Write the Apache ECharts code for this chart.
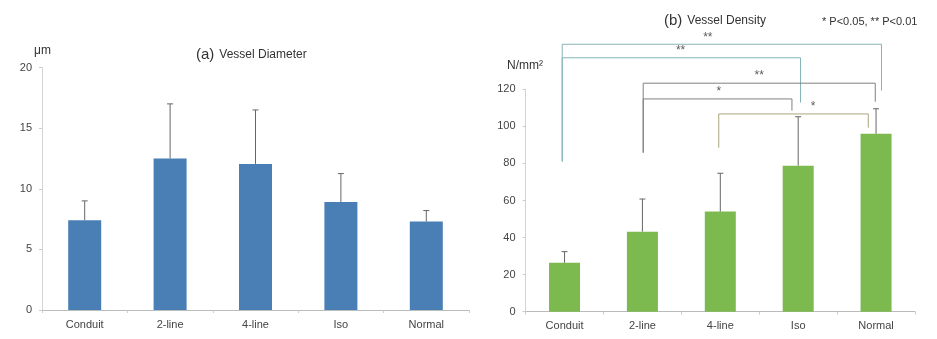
<!DOCTYPE html>
<html><head><meta charset="utf-8">
<script src="https://cdn.jsdelivr.net/npm/echarts@6/dist/echarts.min.js"></script>
<style>html,body{margin:0;padding:0;background:#fff}#c{width:937px;height:339px}</style>
</head><body><div id="c"></div>
<script>
var categories = ['Conduit', '2-line', '4-line', 'Iso', 'Normal'];
var diameterMean = [7.4, 12.5, 12.05, 8.9, 7.3];
var diameterErr = [9.0, 17.0, 16.5, 11.25, 8.2];
var densityMean = [26.4, 43.2, 54, 78.8, 96];
var densityErr = [32.4, 60.8, 74.7, 105.2, 109.5];
var diameterTicks = [0, 5, 10, 15, 20];
var densityTicks = [0, 20, 40, 60, 80, 100, 120];
// significance brackets: [xLeft, xRight, yTop, yLeftEnd, yRightEnd]
var bracketCoords = [
  [-0.03, 4.07, 144.3, 81, 119.3],
  [-0.03, 3.03, 137, 81, 112.8],
  [1.01, 3.99, 123.3, 85.8, 113.3],
  [1.01, 2.92, 114.8, 85.8, 108.5],
  [1.98, 3.90, 106.7, 88.5, 99.3]
];
var bracketLabels = ['**', '**', '**', '*', '*'];
var bracketLabelX = [1.84, 1.49, 2.5, 1.98, 3.19];
var bracketColors = ['#86b4b8', '#86b4b8', '#808080', '#808080', '#aaa67c'];

var chart = echarts.init(document.getElementById('c'), null, {renderer: 'canvas'});
var FONT = 'Liberation Sans';

function errSeries(xi, yi, mean, err) {
  return {
    type: 'custom', xAxisIndex: xi, yAxisIndex: yi, z: 5,
    data: mean.map(function (m, i) { return [i, m, err[i]]; }),
    renderItem: function (params, api) {
      var p0 = api.coord([api.value(0), api.value(1)]);
      var p1 = api.coord([api.value(0), api.value(2)]);
      var st = {stroke: '#666', lineWidth: 1};
      return {type: 'group', children: [
        {type: 'line', shape: {x1: p0[0], y1: p0[1], x2: p1[0], y2: p1[1]}, style: st},
        {type: 'line', shape: {x1: p1[0] - 3, y1: p1[1], x2: p1[0] + 3, y2: p1[1]}, style: st}
      ]};
    }
  };
}

var series = [
  {type: 'bar', xAxisIndex: 0, yAxisIndex: 0, data: diameterMean, barWidth: 33,
   itemStyle: {color: '#4a7fb6'}},
  errSeries(0, 0, diameterMean, diameterErr),
  {type: 'bar', xAxisIndex: 1, yAxisIndex: 1, data: densityMean, barWidth: 31,
   itemStyle: {color: '#7cb94e'}},
  errSeries(1, 1, densityMean, densityErr)
];
bracketCoords.forEach(function (b, k) {
  series.push({
    type: 'line', xAxisIndex: 2, yAxisIndex: 1, clip: false, symbol: 'none', silent: true,
    lineStyle: {color: bracketColors[k], width: 1},
    data: [[b[0], b[3]], [b[0], b[2]], [b[1], b[2]], [b[1], b[4]]]
  });
});
series.push({
  type: 'scatter', xAxisIndex: 2, yAxisIndex: 1, clip: false, symbolSize: 0, silent: true,
  data: bracketCoords.map(function (b, k) {
    return {value: [bracketLabelX[k], b[2]], name: bracketLabels[k]};
  }),
  label: {show: true, position: 'top', distance: 1, formatter: '{b}', color: '#333',
    fontFamily: FONT, fontSize: 12}
});

var axisLbl = {color: '#444', fontFamily: FONT, fontSize: 11};
var rich = {a: {fontSize: 15, color: '#333', fontFamily: FONT, fontWeight: 'normal'},
            b: {fontSize: 12, color: '#333', fontFamily: FONT, fontWeight: 'normal'}};
chart.setOption({
  animation: false,
  title: [
    {text: '{a|(a)} {b|Vessel Diameter}', left: 191, top: 41, textStyle: {fontWeight: 'normal', rich: rich}},
    {text: 'μm', left: 29, top: 40, textStyle: {fontSize: 12, fontWeight: 'normal', color: '#333', fontFamily: FONT}},
    {text: '{a|(b)} {b|Vessel Density}', left: 659, top: 7, textStyle: {fontWeight: 'normal', rich: rich}},
    {text: '* P<0.05, ** P<0.01', left: 817, top: 11, textStyle: {fontSize: 11, fontWeight: 'normal', color: '#333', fontFamily: FONT}},
    {text: 'N/mm²', left: 502, top: 55, textStyle: {fontSize: 12, fontWeight: 'normal', color: '#333', fontFamily: FONT}}
  ],
  grid: [
    {left: 42, right: 468, top: 67.5, bottom: 29},
    {left: 525.6, right: 22, top: 89.3, bottom: 27.3}
  ],
  xAxis: [
    {type: 'category', gridIndex: 0, data: categories,
     axisLine: {lineStyle: {color: '#bbb'}}, axisTick: {show: true, lineStyle: {color: '#ccc'}, length: 3},
     axisLabel: Object.assign({margin: 9}, axisLbl)},
    {type: 'category', gridIndex: 1, data: categories,
     axisLine: {lineStyle: {color: '#bbb'}}, axisTick: {show: true, lineStyle: {color: '#ccc'}, length: 3},
     axisLabel: Object.assign({margin: 9}, axisLbl)},
    {type: 'value', gridIndex: 1, min: -0.5, max: 4.5, show: false}
  ],
  yAxis: [
    {type: 'value', gridIndex: 0, min: diameterTicks[0], max: diameterTicks[diameterTicks.length - 1], interval: 5,
     axisLine: {show: true, onZero: false, lineStyle: {color: '#ccc', type: 'dotted'}},
     axisTick: {show: true, length: 3, lineStyle: {color: '#ccc'}}, splitLine: {show: false},
     axisLabel: Object.assign({margin: 10}, axisLbl)},
    {type: 'value', gridIndex: 1, min: densityTicks[0], max: densityTicks[densityTicks.length - 1], interval: 20,
     axisLine: {show: true, onZero: false, lineStyle: {color: '#ccc', type: 'dotted'}},
     axisTick: {show: true, length: 3, lineStyle: {color: '#ccc'}}, splitLine: {show: false},
     axisLabel: Object.assign({margin: 10}, axisLbl)}
  ],
  series: series
});
</script></body></html>
